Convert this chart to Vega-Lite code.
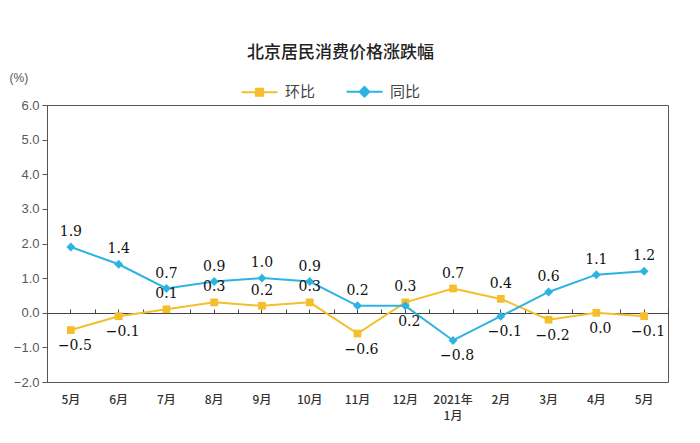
{
  "$schema": "https://vega.github.io/schema/vega-lite/v6.json",
  "width": 621,
  "height": 277,
  "autosize": "none",
  "padding": {"left": 47, "top": 105, "right": 32, "bottom": 61},
  "background": "white",
  "config": {
    "view": {"stroke": "#555", "strokeWidth": 1},
    "axis": {"grid": false}
  },
  "title": {
    "text": "北京居民消费价格涨跌幅",
    "font": "Noto Sans CJK SC",
    "fontSize": 17,
    "fontWeight": 500,
    "color": "#222",
    "anchor": "middle",
    "dx": -17,
    "offset": 9
  },
  "data": {
    "values": [
      {"date": "2020-05", "series": "环比", "value": -0.5},
      {"date": "2020-06", "series": "环比", "value": -0.1},
      {"date": "2020-07", "series": "环比", "value": 0.1},
      {"date": "2020-08", "series": "环比", "value": 0.3},
      {"date": "2020-09", "series": "环比", "value": 0.2},
      {"date": "2020-10", "series": "环比", "value": 0.3},
      {"date": "2020-11", "series": "环比", "value": -0.6},
      {"date": "2020-12", "series": "环比", "value": 0.3},
      {"date": "2021-01", "series": "环比", "value": 0.7},
      {"date": "2021-02", "series": "环比", "value": 0.4},
      {"date": "2021-03", "series": "环比", "value": -0.2},
      {"date": "2021-04", "series": "环比", "value": 0.0},
      {"date": "2021-05", "series": "环比", "value": -0.1},
      {"date": "2020-05", "series": "同比", "value": 1.9},
      {"date": "2020-06", "series": "同比", "value": 1.4},
      {"date": "2020-07", "series": "同比", "value": 0.7},
      {"date": "2020-08", "series": "同比", "value": 0.9},
      {"date": "2020-09", "series": "同比", "value": 1.0},
      {"date": "2020-10", "series": "同比", "value": 0.9},
      {"date": "2020-11", "series": "同比", "value": 0.2},
      {"date": "2020-12", "series": "同比", "value": 0.2},
      {"date": "2021-01", "series": "同比", "value": -0.8},
      {"date": "2021-02", "series": "同比", "value": -0.1},
      {"date": "2021-03", "series": "同比", "value": 0.6},
      {"date": "2021-04", "series": "同比", "value": 1.1},
      {"date": "2021-05", "series": "同比", "value": 1.2}
    ]
  },
  "encoding": {
    "x": {
      "field": "date",
      "type": "ordinal",
      "scale": {"type": "band", "paddingInner": 0, "paddingOuter": 0}
    },
    "y": {
      "field": "value",
      "type": "quantitative",
      "scale": {"domain": [-2, 6], "nice": false, "zero": false},
      "axis": {
        "values": [-2, -1, 0, 1, 2, 3, 4, 5, 6],
        "format": ".1f",
        "labelFont": "Liberation Sans",
        "labelFontSize": 13,
        "labelColor": "#595959",
        "labelPadding": 3,
        "tickSize": 5,
        "tickColor": "#555",
        "domainColor": "#555",
        "title": "(%)",
        "titleAngle": 0,
        "titleFont": "Liberation Sans",
        "titleFontSize": 12,
        "titleFontWeight": "normal",
        "titleColor": "#555",
        "titleAlign": "left",
        "titleBaseline": "middle",
        "titleX": -38,
        "titleY": -28
      }
    },
    "color": {
      "field": "series",
      "type": "nominal",
      "scale": {"domain": ["环比", "同比"], "range": ["#F4BE2C", "#2DB3E2"]},
      "legend": {
        "title": null,
        "orient": "none",
        "legendX": 193,
        "legendY": -33,
        "direction": "horizontal",
        "columns": 2,
        "columnPadding": 26,
        "symbolType": "M-1,0H1M-0.2,-0.2H0.2V0.2H-0.2Z",
        "symbolSize": 1300,
        "symbolOpacity": 1,
        "symbolStrokeWidth": 2,
        "labelFont": "Noto Sans CJK SC",
        "labelFontSize": 15,
        "labelColor": "#444",
        "labelOffset": 6,
        "encode": {
          "symbols": {
            "update": {
              "shape": {"signal": "datum.value === '环比' ? 'M-1,0H1M-0.2,-0.2H0.2V0.2H-0.2Z' : 'M-1,0H1M0,-0.27L0.27,0L0,0.27L-0.27,0Z'"},
              "stroke": {"signal": "datum.value === '环比' ? '#F4BE2C' : '#2DB3E2'"},
              "fill": {"signal": "datum.value === '环比' ? '#F4BE2C' : '#2DB3E2'"},
              "strokeWidth": {"value": 2}
            }
          }
        }
      }
    }
  },
  "layer": [
    {
      "mark": {"type": "line", "strokeWidth": 2},
      "encoding": {
        "x": {
          "field": "date",
          "type": "ordinal",
          "axis": {
            "orient": "bottom",
            "title": null,
            "ticks": false,
            "domain": false,
            "labelAngle": 0,
            "labelPadding": 17,
            "labelFont": "Noto Sans CJK SC",
            "labelFontSize": 12,
            "labelFontWeight": 500,
            "labelColor": "#333",
            "labelLineHeight": 16,
            "labelBaseline": "middle",
            "labelExpr": "datum.value == '2021-01' ? ['2021年', '1月'] : toNumber(slice(datum.value, 5)) + '月'"
          }
        }
      }
    },
    {
      "transform": [{"filter": "datum.series == '环比'"}],
      "mark": {"type": "point", "filled": true, "opacity": 1, "shape": "square", "size": 60},
      "encoding": {
        "x": {"field": "date", "type": "ordinal", "axis": null}
      }
    },
    {
      "transform": [{"filter": "datum.series == '同比'"}],
      "mark": {"type": "point", "filled": true, "opacity": 1, "shape": "diamond", "size": 80},
      "encoding": {
        "x": {"field": "date", "type": "ordinal", "axis": null}
      }
    },
    {
      "transform": [
        {"filter": "!((datum.series == '环比' && indexof(['2020-05','2020-06','2020-11','2021-03','2021-04','2021-05'], datum.date) >= 0) || (datum.series == '同比' && indexof(['2020-12','2021-01','2021-02'], datum.date) >= 0))"}
      ],
      "mark": {"type": "text", "baseline": "bottom", "dy": -8, "font": "DejaVu Serif", "fontSize": 14},
      "encoding": {
        "x": {
          "field": "date",
          "type": "ordinal",
          "axis": {
            "orient": "bottom",
            "offset": -69,
            "labels": false,
            "title": null,
            "domain": true,
            "domainColor": "#444",
            "ticks": true,
            "tickSize": -4,
            "tickColor": "#444"
          }
        },
        "text": {"field": "value", "type": "quantitative", "format": ".1f"},
        "color": {"value": "#111"}
      }
    },
    {
      "transform": [
        {"filter": "(datum.series == '环比' && indexof(['2020-05','2020-06','2020-11','2021-03','2021-04','2021-05'], datum.date) >= 0) || (datum.series == '同比' && indexof(['2020-12','2021-01','2021-02'], datum.date) >= 0)"}
      ],
      "mark": {"type": "text", "baseline": "top", "dy": 9, "dx": 4, "font": "DejaVu Serif", "fontSize": 14},
      "encoding": {
        "x": {
          "field": "date",
          "type": "ordinal",
          "axis": {
            "orient": "bottom",
            "offset": -69,
            "labels": false,
            "title": null,
            "domain": false,
            "ticks": true,
            "tickBand": "extent",
            "tickSize": -4,
            "tickColor": "#444"
          }
        },
        "text": {"field": "value", "type": "quantitative", "format": ".1f"},
        "color": {"value": "#111"}
      }
    }
  ],
  "resolve": {"axis": {"x": "independent"}}
}
